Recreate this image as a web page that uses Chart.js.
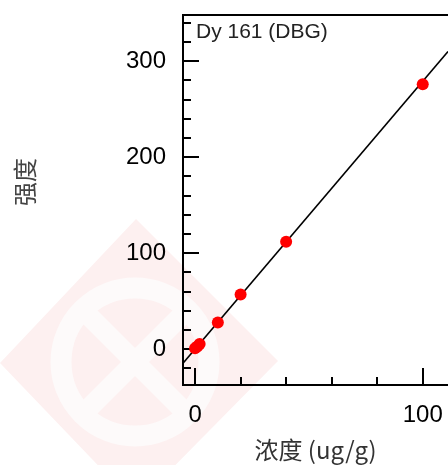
<!DOCTYPE html>
<html>
<head>
<meta charset="utf-8">
<script src="https://cdn.jsdelivr.net/npm/chart.js@4.4.1/dist/chart.umd.min.js"></script>
<style>
  html, body { margin: 0; padding: 0; background: #fff; overflow: hidden; }
  canvas { display: block; }
</style>
</head>
<body>
<canvas id="calib" width="448" height="465"></canvas>
<script>
// Dy 161 calibration: standard concentration vs. measured intensity
const concentration = [0, 1, 2, 10, 20, 40, 100];
const intensity = [1, 3, 5.5, 28, 57, 112, 276];

// linear fit reported for the curve
const fitSlope = 2.79;
const fitIntercept = 0.2;

// axis ranges and tick positions
const X_MIN = -5.3, X_MAX = 111.1;
const Y_MIN = -37.2, Y_MAX = 348.2;
const xLabelTicks = [0, 100];
const xMinorTicks = [20, 40, 60, 80];
const yLabelTicks = [0, 100, 200, 300];
const yMinorTicks = [-20, 20, 40, 60, 80, 120, 140, 160, 180, 220, 240, 260, 280, 320, 340];

const ANALYTE = 'Dy 161 (DBG)';
const X_TITLE = '浓度 (ug/g)';
const Y_TITLE = '强度';

const tickFont = { family: "'Liberation Sans', Arial, sans-serif", size: 24 };
const cjkFont = "'Noto Sans CJK SC', 'Liberation Sans', sans-serif";

const points = concentration.map((x, i) => ({ x: x, y: intensity[i] }));
const fitLine = [X_MIN, X_MAX].map(x => ({ x: x, y: fitIntercept + fitSlope * x }));

// faint logo stamp behind the plot
const stampPlugin = {
    id: 'stamp',
    beforeDraw(chart) {
        const ctx = chart.ctx;
        ctx.save();
        ctx.fillStyle = '#fdf0f0';
        ctx.beginPath();
        ctx.moveTo(0, 363);
        ctx.lineTo(136, 219);
        ctx.lineTo(278, 361);
        ctx.lineTo(136, 505);
        ctx.closePath();
        ctx.fill();
        ctx.strokeStyle = '#fdfafa';
        ctx.lineWidth = 21;
        ctx.beginPath();
        ctx.arc(135, 362, 74, 0, Math.PI * 2);
        ctx.stroke();
        ctx.lineWidth = 20;
        ctx.beginPath();
        ctx.moveTo(88, 315); ctx.lineTo(182, 409);
        ctx.moveTo(182, 315); ctx.lineTo(88, 409);
        ctx.stroke();
        ctx.restore();
    }
};

// inward tick marks, closed top edge, panel label and rotated y title
const framePlugin = {
    id: 'frame',
    beforeDatasetsDraw(chart) {
        const ctx = chart.ctx;
        const area = chart.chartArea;
        const xs = chart.scales.x, ys = chart.scales.y;
        ctx.save();
        ctx.strokeStyle = '#000';
        ctx.lineWidth = 2;
        ctx.beginPath();
        yLabelTicks.forEach(v => {
            const py = Math.round(ys.getPixelForValue(v));
            ctx.moveTo(area.left, py); ctx.lineTo(area.left + 16, py);
        });
        yMinorTicks.forEach(v => {
            const py = Math.round(ys.getPixelForValue(v));
            ctx.moveTo(area.left, py); ctx.lineTo(area.left + 8, py);
        });
        xLabelTicks.forEach(v => {
            const px = Math.round(xs.getPixelForValue(v));
            ctx.moveTo(px, area.bottom); ctx.lineTo(px, area.bottom - 17);
        });
        xMinorTicks.forEach(v => {
            const px = Math.round(xs.getPixelForValue(v));
            ctx.moveTo(px, area.bottom); ctx.lineTo(px, area.bottom - 8);
        });
        ctx.moveTo(area.left - 1, area.top);
        ctx.lineTo(area.right, area.top);
        ctx.stroke();

        ctx.fillStyle = '#222';
        ctx.font = "21px 'Liberation Sans', Arial, sans-serif";
        ctx.textAlign = 'left';
        ctx.textBaseline = 'alphabetic';
        ctx.fillText(ANALYTE, area.left + 13, area.top + 23);

        ctx.translate(25, 182);
        ctx.rotate(-Math.PI / 2);
        ctx.fillStyle = '#444';
        ctx.font = '24px ' + cjkFont;
        ctx.textAlign = 'center';
        ctx.textBaseline = 'middle';
        ctx.fillText(Y_TITLE, 0, 0);
        ctx.restore();
    }
};

new Chart(document.getElementById('calib'), {
    type: 'scatter',
    data: {
        datasets: [
            {
                type: 'line',
                data: fitLine,
                borderColor: '#000',
                borderWidth: 1.6,
                pointRadius: 0,
                fill: false,
                order: 2
            },
            {
                data: points,
                backgroundColor: '#ff0000',
                borderWidth: 0,
                pointRadius: 6,
                order: 1
            }
        ]
    },
    options: {
        responsive: false,
        animation: false,
        layout: { autoPadding: false, padding: { top: 15, right: 0, bottom: 0, left: 0 } },
        plugins: {
            legend: { display: false },
            tooltip: { enabled: false }
        },
        scales: {
            x: {
                type: 'linear',
                min: X_MIN,
                max: X_MAX,
                grid: { display: false, drawTicks: false },
                border: { color: '#000', width: 2 },
                afterBuildTicks: scale => { scale.ticks = xLabelTicks.map(v => ({ value: v })); },
                afterFit: scale => {
                    scale.height = 80;
                    scale.paddingLeft = 0;
                    scale.paddingRight = 0;
                },
                ticks: { font: tickFont, color: '#000', padding: 16, maxRotation: 0, autoSkip: false },
                title: {
                    display: true,
                    text: X_TITLE,
                    color: '#333',
                    font: { family: cjkFont, size: 24 },
                    padding: { top: 0, bottom: 1 }
                }
            },
            y: {
                type: 'linear',
                min: Y_MIN,
                max: Y_MAX,
                grid: { display: false, drawTicks: false },
                border: { color: '#000', width: 2 },
                afterBuildTicks: scale => { scale.ticks = yLabelTicks.map(v => ({ value: v })); },
                afterFit: scale => {
                    scale.width = 183;
                    scale.paddingTop = 0;
                    scale.paddingBottom = 0;
                },
                ticks: { font: tickFont, color: '#000', padding: 17, autoSkip: false }
            }
        }
    },
    plugins: [stampPlugin, framePlugin]
});
</script>
</body>
</html>
